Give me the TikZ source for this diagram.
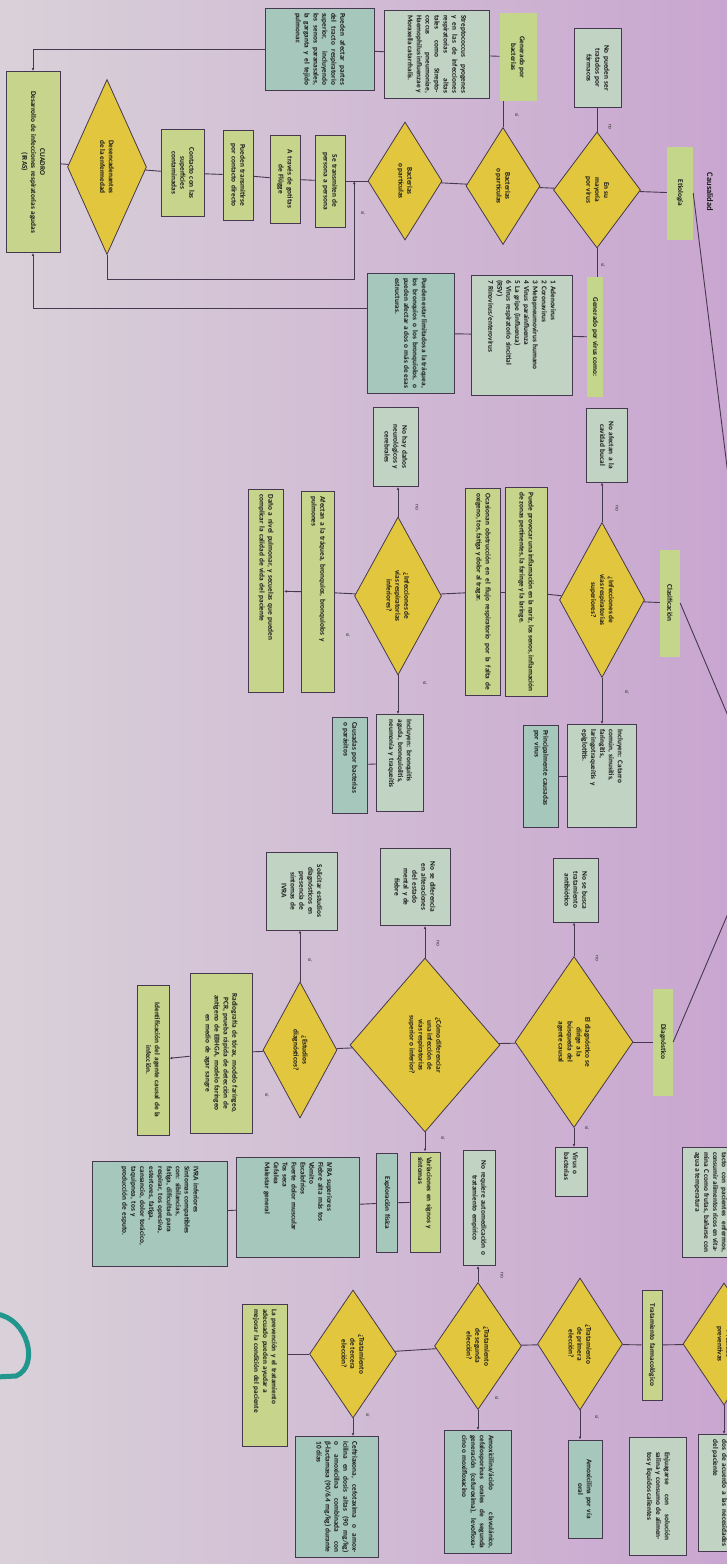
\documentclass[tikz,border=0pt]{standalone}
\usepackage{fontspec}
\setsansfont{Carlito}
\usetikzlibrary{shapes.geometric,arrows.meta,calc}

\definecolor{paperl}{RGB}{217,209,217}
\definecolor{paperr}{RGB}{201,166,208}
\definecolor{decyellow}{RGB}{226,199,62}
\definecolor{boxgreen}{RGB}{199,213,140}
\definecolor{taggreen}{RGB}{196,214,138}
\definecolor{boxteal}{RGB}{166,199,188}
\definecolor{boxmint}{RGB}{193,211,195}
\definecolor{linecol}{RGB}{70,56,78}
\definecolor{marker}{RGB}{32,150,140}

\tikzset{
  boxsize/.code 2 args={\pgfmathsetmacro\tw{#1-10}\edef\tmp{\noexpand\tikzset{minimum width=#1pt,minimum height=#2pt,text width=\tw pt}}\tmp},
  dsize/.style 2 args={minimum width=#1pt,minimum height=#2pt}
}

\begin{document}
\begin{tikzpicture}[x=1pt,y=-1pt]
		\tikzstyle{base}=[rotate=-90,font=\sffamily\bfseries\fontsize{7.3}{8.9}\selectfont,text=black!90,inner sep=2pt]
		\tikzstyle{gbox}=[base,draw=linecol,line width=0.8pt,fill=boxgreen,align=justify]
		\tikzstyle{tbox}=[gbox,fill=boxteal]
		\tikzstyle{mbox}=[gbox,fill=boxmint]
		\tikzstyle{tag}=[base,fill=taggreen,align=center]
		\tikzstyle{dia}=[base,shape=diamond,draw=linecol,line width=0.8pt,fill=decyellow,align=center,inner sep=0pt,aspect=1.4]
		\tikzstyle{lbl}=[rotate=-90,font=\sffamily\fontsize{5.5}{5.5}\selectfont,inner sep=0pt,text=black!80]
		\tikzstyle{conn}=[draw=linecol,line width=0.9pt]
		\tikzstyle{arr}=[conn,-{Latex[length=3pt,width=2.6pt]}]
		\shade [left color=paperl,right color=paperr] (0,0) rectangle (727,1564);
		\useasboundingbox (0,0) rectangle (727,1564);
		\coordinate (hub) at (770,815);
		% etiologia
		\node [base,font=\sffamily\bfseries\fontsize{8.5}{9}\selectfont] (caus) at (710,192) {Causalidad};
		\node [tag,minimum width=93pt,minimum height=26pt] (etio) at (680,193) {Etiología};
		\node [dia,dsize={116}{87}] (virus) at (597,190) {En su\\mayoría\\por virus};
		\node [mbox,boxsize={79}{47},align=center] (nofarm) at (598,68) {No pueden ser\\tratados por\\fármacos};
		\node [tag,minimum width=120pt,minimum height=16pt] (vircomo) at (595,337) {Generado por virus como:};
		\node [mbox,boxsize={120}{101},align=left] (vlist) at (522,335) {1 Adenovirus\\2 Coronavirus\\3 Metapneumovirus humano\\4 Virus parainfluenza\\5 La gripe (influenza)\\6 Virus respiratorio sincitial\\(RSV)\\7 Rinovirus/enterovirus};
		\node [tbox,boxsize={120}{87}] (limit) at (411,333) {Pueden estar limitados a la tráquea, los bronquios o los bronquiolos, o pueden afectar a dos o más de esas estructuras.};
		\node [dia,dsize={117}{74}] (rdia) at (503,186) {Bacterias\\o partículas};
		\node [dia,dsize={118}{74}] (ldia) at (405,181) {Bacterias\\o partículas};
		\node [tag,minimum width=88pt,minimum height=37pt] (bact) at (518,57) {Generado por\\bacterias};
		\node [mbox,boxsize={88}{105}] (strep) at (437,54) {Streptococcus pyogenes y en las de infecciones respiratorias altas tales como Streptococcus pneumoniae, Haemophilus influenzae y Moraxella catarrhalis.};
		\node [tbox,boxsize={82}{109}] (tract) at (320,49) {Pueden afectar partes del tracto respiratorio superior, incluyendo los senos paranasales, la garganta y el tejido pulmonar.};
		\node [gbox,boxsize={92}{30},align=center] (persona) at (330,181) {Se transmiten de\\persona a persona};
		\node [gbox,boxsize={88}{30},align=center] (gotas) at (285,179) {A través de gotitas\\de Flügge};
		\node [gbox,boxsize={90}{30},align=center] (directo) at (238,175) {Pueden transmitirse\\por contacto directo};
		\node [gbox,boxsize={87}{43},align=center] (superf) at (183,173) {Contacto con las\\superficies\\contaminadas};
		\node [dia,dsize={175}{79}] (desenc) at (107,167) {Desencadenantes\\de la enfermedad};
		\node [gbox,boxsize={181}{54},align=center] (cuadro) at (33,162) {CUADRO\\Desarrollo de infecciones respiratorias agudas\\(IRAS)};
		\draw [conn] (virus) -- (etio);
		\draw [conn] (etio.north) -- (hub);
		\draw [conn] (virus.west) -- (virus.west |- nofarm.east);
		\draw [conn] (virus.east) -- (virus.east |- vircomo.west);
		\draw [conn] (vircomo) -- (vlist);
		\draw [conn] (vlist) -- (limit);
		\draw [conn] (rdia) -- (virus);
		\draw [conn] (ldia) -- (rdia);
		\draw [conn] (rdia.west) -- (rdia.west |- bact.east);
		\draw [conn] (bact) -- (strep);
		\draw [conn] (strep) -- (tract);
		\draw [arr] (tract.south) -| (cuadro.west);
		\draw [arr] ($(limit.south west)!0.3!(limit.south east)$) -| (cuadro.east);
		\draw [conn] (ldia) -- (persona);
		\coordinate (jn) at ($(persona.north)!0.4!(ldia.south)$);
		\draw [arr] (desenc.east) -- ++(0,25) -| (jn);
		\draw [conn] (persona) -- (gotas);
		\draw [conn] (gotas) -- (directo);
		\draw [conn] (directo) -- (superf);
		\draw [conn] (superf) -- (desenc);
		\draw [conn] (desenc) -- (cuadro);
		\node [lbl] (l1) at (610,127) {no};
		\node [lbl] (l2) at (603,265) {sí};
		\node [lbl] (l3) at (517,115) {sí};
		\node [lbl] (l4) at (363,213) {sí};
		% clasificacion
		\node [tag,minimum width=107pt,minimum height=20pt] (clasi) at (670,603) {Clasificación};
		\node [dia,dsize={155}{85}] (sup) at (602,600) {¿Infecciones de\\vías respiratorias\\superiores?};
		\node [mbox,boxsize={74}{41},align=center] (nobuc) at (607,445) {No afectan a la\\cavidad bucal};
		\node [mbox,boxsize={103}{69},align=left] (incsup) at (602,776) {Incluyen: Catarro\\común, sinusitis,\\faringitis,\\laringotraqueítis y\\epiglotitis.};
		\node [tbox,boxsize={102}{35},align=left] (virsup) at (541,776) {Principalmente causadas\\por virus};
		\node [gbox,boxsize={209}{42}] (infl) at (526,592) {Puede provocar una inflamación en la nariz, los senos, inflamación de zonas pertinentes, la faringe y la laringe.};
		\node [gbox,boxsize={207}{35}] (obst) at (483,592) {Ocasionan obstrucción en el flujo respiratorio por la falta de oxígeno, tos, fatiga y dolor al tragar.};
		\node [dia,dsize={158}{87}] (inf) at (398,596) {¿Infecciones de\\vías respiratorias\\inferiores?};
		\node [mbox,boxsize={79}{45},align=center] (noneur) at (396,447) {No hay daños\\neurológicos y\\cerebrales};
		\node [mbox,boxsize={97}{47},align=left] (incinf) at (400,763) {Incluyen: bronquitis\\aguda, bronquiolitis,\\neumonía y traqueítis};
		\node [tbox,boxsize={96}{35},align=left] (bacinf) at (350,765) {Causadas por bacterias\\o parásitos};
		\node [gbox,boxsize={201}{33},align=left] (afect) at (318,592) {Afectan a la tráquea, bronquios, bronquiolos y\\pulmones};
		\node [gbox,boxsize={203}{35},align=left] (dano) at (266,591) {Daño a nivel pulmonar, y secuelas que pueden\\complicar la calidad de vida del paciente};
		\draw [conn] (sup) -- (clasi);
		\draw [conn] (clasi.north) -- (hub);
		\draw [arr] (sup.west) -- (sup.west |- nobuc.east);
		\draw [arr] (sup.east) -- (sup.east |- incsup.west);
		\draw [conn] (incsup) -- (virsup);
		\draw [conn] (sup) -- (infl);
		\draw [conn] (infl) -- (obst);
		\draw [conn] (obst) -- (inf);
		\draw [arr] (inf.west) -- (inf.west |- noneur.east);
		\draw [arr] (inf.east) -- (inf.east |- incinf.west);
		\draw [conn] (incinf) -- (bacinf);
		\draw [conn] (inf) -- (afect);
		\draw [arr] (afect) -- (dano);
		\node [lbl] (l5) at (617,508) {no};
		\node [lbl] (l6) at (627,692) {sí};
		\node [lbl] (l7) at (417,507) {no};
		\node [lbl] (l8) at (425,683) {sí};
		\node [lbl] (l9) at (348,635) {sí};
		% diagnostico
		\node [tag,minimum width=107pt,minimum height=20pt] (diag) at (663,1042) {Diagnóstico};
		\node [dia,dsize={171}{118}] (busq) at (574,1042) {El diagnóstico se\\dirige a la\\búsqueda del\\agente causal};
		\node [mbox,boxsize={64}{45},align=center] (noatb) at (576,890) {No se busca\\tratamiento\\antibiótico};
		\node [mbox,boxsize={49}{32},align=left] (virbac) at (571,1172) {Virus o\\bacterias};
		\node [dia,dsize={174}{150}] (dif) at (425,1045) {¿Cómo diferenciar\\una infección de\\vías respiratorias\\superior o inferior?};
		\node [mbox,boxsize={77}{70},align=center] (nodif) at (415,887) {No se diferencia\\en alteraciones\\del estado\\mental y de\\fiebre};
		\node [gbox,boxsize={100}{30},align=left] (varia) at (425,1202) {Variaciones en signos y\\síntomas};
		\node [tbox,boxsize={99}{21},align=center] (explo) at (387,1203) {Exploración física};
		\node [tbox,boxsize={100}{123},align=left] (ivras) at (298,1207) {IVRA superiores\\Fiebre alta más tos\\Vómito\\Escalofríos\\Fuerte dolor muscular\\Tos seca\\Cefalea\\Malestar general};
		\node [tbox,boxsize={105}{135},align=left] (ivrai) at (160,1214) {IVRA inferiores\\Síntomas compatibles\\con: sibilancias,\\fatiga, dificultad para\\respirar, tos opresiva,\\estertores, fatiga,\\cansancio, dolor torácico,\\taquipnea, tos y\\producción de esputo.};
		\node [dia,dsize={136}{74}] (estu) at (300,1050) {¿Estudios\\diagnósticos?};
		\node [mbox,boxsize={78}{71},align=center] (solic) at (302,891) {Solicitar estudios\\diagnósticos en\\presencia de\\síntomas de\\IVRA};
		\node [gbox,boxsize={160}{62},align=center] (radio) at (221,1053) {Radiografía de tórax, modelo faríngeo,\\PCR, prueba rápida de detección de\\antígeno de EBHGA, modelo faríngeo\\en medio de agar sangre};
		\node [gbox,boxsize={150}{32},align=center] (ident) at (153,1060) {Identificación del agente causal de la\\infección.};
		\draw [conn] (busq) -- (diag);
		\draw [conn] (diag.north) -- (hub);
		\draw [arr] (busq.west) -- (busq.west |- noatb.east);
		\draw [arr] (busq.east) -- (busq.east |- virbac.west);
		\draw [conn] (dif) -- (busq);
		\draw [arr] (dif.west) -- (dif.west |- nodif.east);
		\draw [arr] (dif.east) -- (dif.east |- varia.west);
		\draw [conn] (varia) -- (explo);
		\draw [conn] (explo) -- (ivras);
		\draw [conn] (ivras) -- (ivrai);
		\draw [conn] (estu) -- (dif);
		\draw [arr] (estu.west) -- (estu.west |- solic.east);
		\draw [conn] (estu) -- (radio);
		\draw [arr] (radio) -- (ident);
		\node [lbl] (l10) at (597,958) {no};
		\node [lbl] (l11) at (587,1128) {sí};
		\node [lbl] (l12) at (438,943) {no};
		\node [lbl] (l13) at (443,1138) {sí};
		\node [lbl] (l14) at (310,960) {sí};
		\node [lbl] (l15) at (267,1095) {sí};
		% tratamiento
		\node [mbox,boxsize={110}{66}] (cuid) at (715,1202) {Lavado de manos, evitar el contacto con pacientes enfermos, consumir alimentos ricos en vitamina C como frutas, bañarse con agua a temperatura};
		\node [dia,dsize={122}{82}] (prev) at (724,1344) {Medidas\\preventivas};
		\node [mbox,boxsize={117}{52}] (nece) at (724,1493) {Reposo, hidratación e ingerir líquidos de acuerdo a las necesidades del paciente};
		\node [gbox,boxsize={110}{20},align=center] (farma) at (652,1345) {Tratamiento farmacológico};
		\node [dia,dsize={132}{85}] (prim) at (580,1344) {¿Tratamiento\\de primera\\elección?};
		\node [tbox,boxsize={98}{34},align=center] (amox) at (585,1489) {Amoxicilina por vía\\oral};
		\node [mbox,boxsize={118}{57},text width=88pt] (enjua) at (658,1496) {Enjuagarse con solución salina y consumo de alimentos y líquidos calientes};
		\node [dia,dsize={127}{87}] (segu) at (478,1346) {¿Tratamiento\\de segunda\\elección?};
		\node [mbox,boxsize={115}{32},align=center] (noauto) at (479,1208) {No requiere automedicación o\\tratamiento empírico};
		\node [tbox,boxsize={123}{67}] (amoxac) at (478,1492) {Amoxicilina/ácido clavulánico, cefalosporinas orales de segunda generación (cefuroxima), levofloxacino o moxifloxacino};
		\node [dia,dsize={128}{87}] (terc) at (353,1354) {¿Tratamiento\\de tercera\\elección?};
		\node [tbox,boxsize={121}{83}] (ceftr) at (337,1497) {Ceftriaxona, cefotaxima o amoxicilina en dosis altas (90 mg/kg) o amoxicilina combinada con β-lactamasa (90/6.4 mg/kg) durante 10 días};
		\node [gbox,boxsize={142}{45},align=left] (mejor) at (265,1375) {La prevención y el tratamiento\\adecuado pueden ayudar a\\mejorar la condición del paciente};
		\draw [conn] (prev) -- (farma);
		\draw [arr] (prev) -- (nece);
		\draw [conn] (farma) -- (prim);
		\draw [arr] (prim.east) -- (prim.east |- amox.west);
		\draw [conn] (segu) -- (prim);
		\draw [arr] (segu.west) -- (segu.west |- noauto.east);
		\draw [arr] (segu.east) -- (segu.east |- amoxac.west);
		\draw [conn] (terc) -- (segu);
		\draw [arr] (terc.east) -- (terc.east |- ceftr.west);
		\draw [conn] (terc.south) -- (terc.south -| mejor.north);
		\node [lbl] (l16) at (597,1417) {sí};
		\node [lbl] (l17) at (502,1275) {no};
		\node [lbl] (l18) at (497,1398) {sí};
		\node [lbl] (l19) at (368,1415) {sí};
		% trazo
		\draw [marker,line width=5pt,line cap=round] (-4,1314) .. controls (28,1318) and (40,1366) .. (16,1376) -- (-4,1377);
	\end{tikzpicture}
\end{document}
